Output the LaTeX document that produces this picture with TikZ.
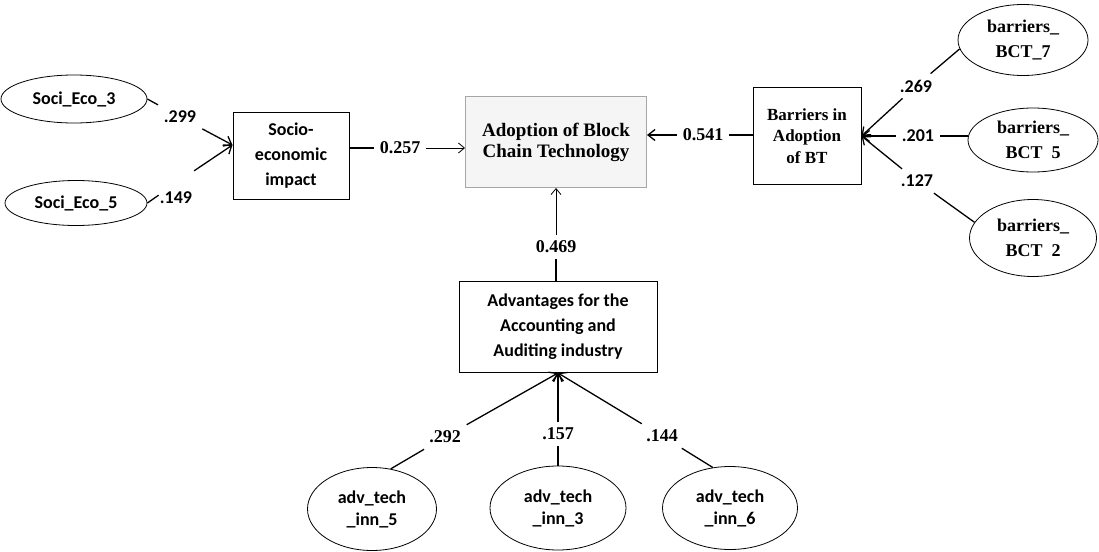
\documentclass[tikz,border=0pt]{standalone}
\usepackage{fontspec}
\setmainfont{Liberation Serif}
\newfontfamily\calfont{Carlito}
\usetikzlibrary{positioning, arrows.meta, shapes.geometric}

\tikzset{
  ind/.style={ellipse, draw, line width=0.8pt, inner sep=0pt, align=center,
    font=\calfont\bfseries\fontsize{18}{22}\selectfont},
  indser/.style={ellipse, draw, line width=0.8pt, inner sep=0pt, align=center,
    font=\bfseries\fontsize{18}{25}\selectfont},
  box/.style={rectangle, draw, line width=1pt, inner sep=0pt, align=center,
    font=\calfont\bfseries\fontsize{18}{25}\selectfont},
  boxser/.style={rectangle, draw, line width=1pt, inner sep=0pt, align=center,
    font=\bfseries\fontsize{17}{21.5}\selectfont},
  adopt/.style={rectangle, draw=gray!70, fill=gray!8, line width=1pt, inner sep=0pt,
    align=center, font=\bfseries\fontsize{19}{21}\selectfont},
  numsans/.style={inner sep=6pt, font=\calfont\bfseries\fontsize{18}{20}\selectfont},
  numser/.style={inner sep=6pt, font=\bfseries\fontsize{18}{20}\selectfont},
  ln/.style={line width=1.3pt},
  arrthick/.style={line width=1.3pt, -{Straight Barb[length=7pt, width=11pt]}},
  arrthin/.style={line width=0.8pt, -{Straight Barb[length=6pt, width=10pt]}}
}

\begin{document}
\begin{tikzpicture}[x=1pt, y=-1pt]
\useasboundingbox (0,0) rectangle (1099,551);

% indicators
\node[ind, minimum width=146pt, minimum height=48pt] (se3) at (74,99) {Soci\_Eco\_3};
\node[ind, minimum width=142pt, minimum height=45pt] (se5) at (76,203) {Soci\_Eco\_5};
\node[indser, minimum width=130pt, minimum height=71pt] (b7) at (1023,40) {barriers\_\\BCT\_7};
\node[indser, minimum width=130pt, minimum height=64pt] (b5) at (1033,140) {barriers\_\\BCT\enspace5};
\node[indser, minimum width=127pt, minimum height=77pt] (b2) at (1033,238) {barriers\_\\BCT\enspace2};
\node[ind, minimum width=129pt, minimum height=83pt] (i5) at (372,509) {adv\_tech\\\_inn\_5};
\node[ind, minimum width=136pt, minimum height=84pt] (i3) at (558,508) {adv\_tech\\\_inn\_3};
\node[ind, minimum width=135pt, minimum height=83pt] (i6) at (730,508) {adv\_tech\\\_inn\_6};

% constructs
\node[box, minimum width=116pt, minimum height=87pt] (sei) at (291,156) {Socio-\\economic\\impact};
\node[adopt, minimum width=181pt, minimum height=91pt] (abt) at (556,142) {Adoption of Block\\Chain Technology};
\node[boxser, minimum width=108pt, minimum height=97pt] (bar) at (807,136) {Barriers in\\Adoption\\of BT};
\node[box, minimum width=198pt, minimum height=91pt] (adv) at (558,327) {Advantages for the\\Accounting and\\Auditing industry};

\coordinate (sein) at ([yshift=11pt]sei.west);

% socio-economic
\node[numsans] (l299) at (180,117) {.299};
\node[numsans] (g149) at (176,183) {\phantom{.149}};
\node[numsans] (n149) at ([yshift=-15pt]g149) {.149};
\draw[ln] (se3.east) -- (l299);
\draw[arrthick] (l299) -- (sein);
\draw[ln] (se5.east) -- (g149);
\draw[arrthick] (g149) -- (sein);

% paths to adoption
\node[numser] (l257) at (400,148) {0.257};
\draw[ln] (sei.east |- l257) -- (l257);
\draw[arrthin] (l257) -- (abt.west |- l257);
\node[numser] (l541) at (703,135) {0.541};
\draw[ln] (bar.west |- l541) -- (l541);
\draw[arrthick] (l541) -- (abt.east |- l541);
\node[numser] (l469) at (556,247) {0.469};
\draw[ln] (l469 |- adv.north) -- (l469);
\draw[arrthin] (l469) -- (abt.south);

% barriers
\node[numsans] (l269) at (916,86) {.269};
\draw[ln] (b7.188) -- (l269);
\draw[arrthick] (l269) -- (bar.east);
\node[numsans] (l201) at (918,136) {.201};
\draw[ln] (b5.west |- l201) -- (l201);
\draw[arrthick] (l201) -- (bar.east);
\node[numsans] (l127) at (917,181) {.127};
\draw[ln] (b2.165) -- (l127);
\draw[arrthick] (l127) -- (bar.east);

% advantages
\node[numser] (l292) at (445,437) {.292};
\draw[ln] (i5.65) -- (l292);
\draw[arrthick] (l292) -- (adv.south);
\node[numser] (l157) at (558,434) {.157};
\draw[ln] (i3) -- (l157);
\draw[arrthick] (l157) -- (adv.south);
\node[numser] (l144) at (662,436) {.144};
\draw[ln] (i6.113) -- (l144);
\draw[arrthick] (l144) -- (adv.south);

\end{tikzpicture}
\end{document}
